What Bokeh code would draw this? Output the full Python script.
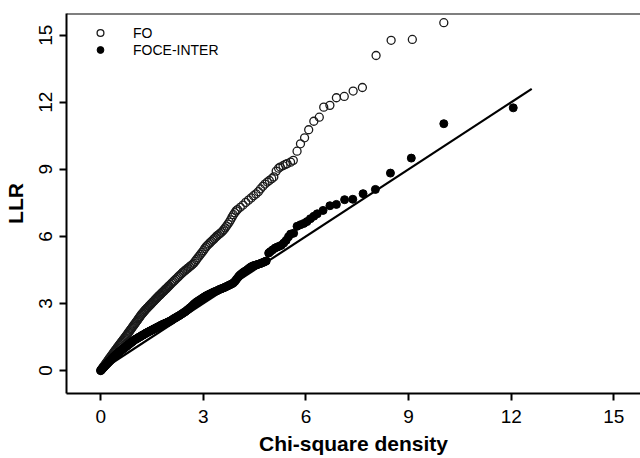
from bokeh.plotting import figure
from bokeh.models import Range1d, FixedTicker, Span, Legend, LegendItem
from bokeh.embed import file_html
from bokeh.resources import INLINE

# ---- data ----
fo_x = [0.000, 0.025, 0.050, 0.075, 0.100, 0.125, 0.150, 0.175, 0.200, 0.225,
        0.250, 0.275, 0.300, 0.325, 0.350, 0.375, 0.400, 0.425, 0.450, 0.475,
        0.500, 0.525, 0.550, 0.575, 0.600, 0.625, 0.650, 0.675, 0.700, 0.725,
        0.750, 0.775, 0.800, 0.825, 0.850, 0.875, 0.900, 0.925, 0.950, 0.975,
        1.000, 1.025, 1.050, 1.075, 1.100, 1.125, 1.150, 1.175, 1.200, 1.225,
        1.250, 1.275, 1.300, 1.325, 1.350, 1.375, 1.400, 1.425, 1.450, 1.475,
        1.500, 1.525, 1.550, 1.575, 1.600, 1.625, 1.650, 1.675, 1.700, 1.725,
        1.750, 1.775, 1.800, 1.825, 1.850, 1.875, 1.900, 1.925, 1.950, 1.975,
        2.00, 2.04, 2.08, 2.12, 2.16, 2.20, 2.24, 2.28, 2.32, 2.36,
        2.40, 2.44, 2.48, 2.52, 2.56, 2.60, 2.64, 2.68, 2.72, 2.76,
        2.80, 2.84, 2.88, 2.92, 2.96, 3.00, 3.04, 3.08, 3.12, 3.16,
        3.20, 3.24, 3.28, 3.32, 3.36, 3.40, 3.44, 3.48, 3.52, 3.56,
        3.60, 3.64, 3.68, 3.72, 3.76, 3.80, 3.84, 3.88, 3.92, 3.96,
        4.00, 4.08, 4.16, 4.24, 4.32, 4.40, 4.47, 4.54, 4.61, 4.67,
        4.74, 4.80, 4.87, 4.93, 5.00, 5.06, 5.13, 5.20, 5.25, 5.33,
        5.40, 5.45, 5.55, 5.63, 5.74, 5.84, 5.96, 6.08, 6.23, 6.39,
        6.52, 6.70, 6.89, 7.12, 7.38, 7.65, 8.05, 8.49, 9.11, 10.03]
fo_y = [0.00, 0.05, 0.10, 0.16, 0.21, 0.26, 0.32, 0.37, 0.42, 0.48,
        0.53, 0.58, 0.64, 0.69, 0.74, 0.80, 0.85, 0.90, 0.95, 1.00,
        1.06, 1.11, 1.16, 1.21, 1.26, 1.31, 1.36, 1.41, 1.46, 1.51,
        1.56, 1.61, 1.67, 1.72, 1.77, 1.83, 1.88, 1.93, 1.99, 2.04,
        2.09, 2.15, 2.20, 2.25, 2.31, 2.36, 2.41, 2.47, 2.52, 2.56,
        2.61, 2.65, 2.70, 2.74, 2.78, 2.82, 2.86, 2.90, 2.94, 2.98,
        3.02, 3.06, 3.10, 3.14, 3.18, 3.22, 3.26, 3.30, 3.34, 3.37,
        3.41, 3.45, 3.49, 3.52, 3.56, 3.60, 3.64, 3.67, 3.71, 3.75,
        3.79, 3.85, 3.91, 3.97, 4.03, 4.09, 4.15, 4.21, 4.27, 4.33,
        4.39, 4.44, 4.49, 4.54, 4.59, 4.64, 4.69, 4.74, 4.80, 4.88,
        4.96, 5.04, 5.12, 5.20, 5.28, 5.36, 5.45, 5.53, 5.60, 5.66,
        5.72, 5.78, 5.84, 5.90, 5.96, 6.02, 6.07, 6.12, 6.17, 6.23,
        6.30, 6.38, 6.46, 6.55, 6.64, 6.74, 6.86, 6.97, 7.06, 7.14,
        7.20, 7.30, 7.40, 7.52, 7.62, 7.72, 7.82, 7.90, 8.00, 8.12,
        8.24, 8.34, 8.43, 8.50, 8.58, 8.66, 8.92, 9.05, 9.10, 9.16,
        9.22, 9.25, 9.32, 9.40, 9.81, 10.14, 10.41, 10.77, 11.15, 11.33,
        11.78, 11.86, 12.20, 12.26, 12.50, 12.66, 14.09, 14.77, 14.81, 15.56]

foce_x = [0.000, 0.025, 0.050, 0.075, 0.100, 0.125, 0.150, 0.175, 0.200, 0.225,
          0.250, 0.275, 0.300, 0.325, 0.350, 0.375, 0.400, 0.425, 0.450, 0.475,
          0.500, 0.525, 0.550, 0.575, 0.600, 0.625, 0.650, 0.675, 0.700, 0.725,
          0.750, 0.775, 0.800, 0.825, 0.850, 0.875, 0.900, 0.925, 0.950, 0.975,
          1.000, 1.025, 1.050, 1.075, 1.100, 1.125, 1.150, 1.175, 1.200, 1.225,
          1.250, 1.275, 1.300, 1.325, 1.350, 1.375, 1.400, 1.425, 1.450, 1.475,
          1.500, 1.525, 1.550, 1.575, 1.600, 1.625, 1.650, 1.675, 1.700, 1.725,
          1.750, 1.775, 1.800, 1.825, 1.850, 1.875, 1.900, 1.925, 1.950, 1.975,
          2.00, 2.04, 2.08, 2.12, 2.16, 2.20, 2.24, 2.28, 2.32, 2.36,
          2.40, 2.44, 2.48, 2.52, 2.56, 2.60, 2.64, 2.68, 2.72, 2.76,
          2.80, 2.84, 2.88, 2.92, 2.96, 3.00, 3.04, 3.08, 3.12, 3.16,
          3.20, 3.24, 3.28, 3.32, 3.36, 3.40, 3.44, 3.48, 3.52, 3.56,
          3.60, 3.64, 3.68, 3.72, 3.76, 3.80, 3.84, 3.88, 3.92, 3.96,
          4.00, 4.04, 4.08, 4.12, 4.16, 4.20, 4.24, 4.28, 4.32, 4.36,
          4.40, 4.44, 4.48, 4.52, 4.56, 4.60, 4.64, 4.68, 4.72, 4.76,
          4.80, 4.84, 4.91, 4.96, 5.03, 5.10, 5.16, 5.22, 5.28, 5.35,
          5.42, 5.49, 5.55, 5.64, 5.74, 5.84, 5.94, 6.03, 6.13, 6.23,
          6.33, 6.50, 6.70, 6.89, 7.13, 7.37, 7.67, 8.03, 8.47, 9.08,
          10.03, 12.06]
foce_y = [0.00, 0.04, 0.08, 0.12, 0.16, 0.20, 0.24, 0.28, 0.32, 0.36,
          0.40, 0.44, 0.48, 0.52, 0.56, 0.60, 0.64, 0.67, 0.71, 0.74,
          0.78, 0.81, 0.84, 0.87, 0.90, 0.93, 0.96, 0.99, 1.02, 1.05,
          1.08, 1.11, 1.14, 1.17, 1.20, 1.23, 1.26, 1.29, 1.32, 1.35,
          1.38, 1.40, 1.42, 1.44, 1.47, 1.49, 1.51, 1.53, 1.56, 1.58,
          1.60, 1.62, 1.65, 1.67, 1.69, 1.71, 1.73, 1.75, 1.77, 1.79,
          1.81, 1.83, 1.85, 1.87, 1.89, 1.91, 1.93, 1.95, 1.97, 1.99,
          2.01, 2.03, 2.05, 2.07, 2.08, 2.10, 2.12, 2.13, 2.15, 2.17,
          2.19, 2.22, 2.26, 2.30, 2.34, 2.37, 2.41, 2.44, 2.48, 2.52,
          2.56, 2.60, 2.64, 2.69, 2.74, 2.79, 2.84, 2.90, 2.96, 3.01,
          3.06, 3.10, 3.14, 3.18, 3.22, 3.26, 3.30, 3.34, 3.37, 3.40,
          3.43, 3.46, 3.49, 3.52, 3.54, 3.57, 3.60, 3.63, 3.65, 3.68,
          3.70, 3.73, 3.76, 3.79, 3.82, 3.85, 3.88, 3.92, 3.98, 4.06,
          4.14, 4.22, 4.28, 4.33, 4.38, 4.42, 4.46, 4.50, 4.55, 4.60,
          4.64, 4.67, 4.69, 4.71, 4.73, 4.75, 4.77, 4.79, 4.82, 4.84,
          4.87, 4.90, 5.25, 5.32, 5.40, 5.48, 5.52, 5.56, 5.60, 5.70,
          5.82, 5.98, 6.10, 6.14, 6.45, 6.52, 6.58, 6.66, 6.79, 6.90,
          7.01, 7.16, 7.37, 7.43, 7.64, 7.66, 7.91, 8.10, 8.83, 9.50,
          11.04, 11.75]

ref_x = [0.0, 12.6]
ref_y = [0.0, 12.6]

x_ticks = [0, 3, 6, 9, 12, 15]
y_ticks = [0, 3, 6, 9, 12, 15]
series_labels = ["FO", "FOCE-INTER"]
x_title = "Chi-square density"
y_title = "LLR"

FONT = "Liberation Sans"

p = figure(width=640, height=458, output_backend="svg", toolbar_location=None,
           x_range=Range1d(-1.0, 15.78), y_range=Range1d(-1.03, 15.97),
           min_border_left=66, min_border_top=13, min_border_right=0,
           min_border_bottom=65)
p.outline_line_color = None
p.xgrid.visible = False
p.ygrid.visible = False
p.background_fill_color = "white"
p.border_fill_color = "white"

r_fo = p.scatter(fo_x, fo_y, marker="circle", size=8, fill_color=None,
                 line_color="#1a1a1a", line_width=1.3)
r_foce = p.scatter(foce_x, foce_y, marker="circle", size=8, fill_color="black",
                   line_color="black", line_width=1)
p.line(ref_x, ref_y, line_color="black", line_width=2.2)

p.add_layout(Span(location=15.97, dimension="width", line_color="black",
                  line_width=2))

for ax, ticks in ((p.xaxis[0], x_ticks), (p.yaxis[0], y_ticks)):
    ax.ticker = FixedTicker(ticks=ticks)
    ax.axis_line_width = 2
    ax.axis_line_color = "black"
    ax.major_tick_line_width = 2
    ax.major_tick_line_color = "black"
    ax.major_tick_out = 7
    ax.major_tick_in = 0
    ax.minor_tick_out = 0
    ax.minor_tick_in = 0
    ax.major_label_text_font = FONT
    ax.major_label_text_font_size = "19px"
    ax.major_label_text_color = "black"
    ax.axis_label_text_font = FONT
    ax.axis_label_text_font_size = "21px"
    ax.axis_label_text_font_style = "bold"
    ax.axis_label_text_color = "black"

p.xaxis.axis_label = x_title
p.yaxis.axis_label = y_title
p.xaxis.major_label_standoff = 9
p.xaxis.axis_label_standoff = 6
p.yaxis.major_label_standoff = 7
p.yaxis.axis_label_standoff = 10
p.yaxis.major_label_orientation = "vertical"

legend = Legend(items=[LegendItem(label=series_labels[0], renderers=[r_fo]),
                       LegendItem(label=series_labels[1], renderers=[r_foce])],
                location=(24, 335), glyph_width=20, glyph_height=17,
                label_height=17, label_standoff=23, padding=0, margin=0,
                spacing=-5, border_line_color=None, background_fill_alpha=0,
                label_text_font=FONT, label_text_font_size="14px",
                label_text_color="black")
p.add_layout(legend)

open("out.html", "w").write(file_html(p, INLINE))
